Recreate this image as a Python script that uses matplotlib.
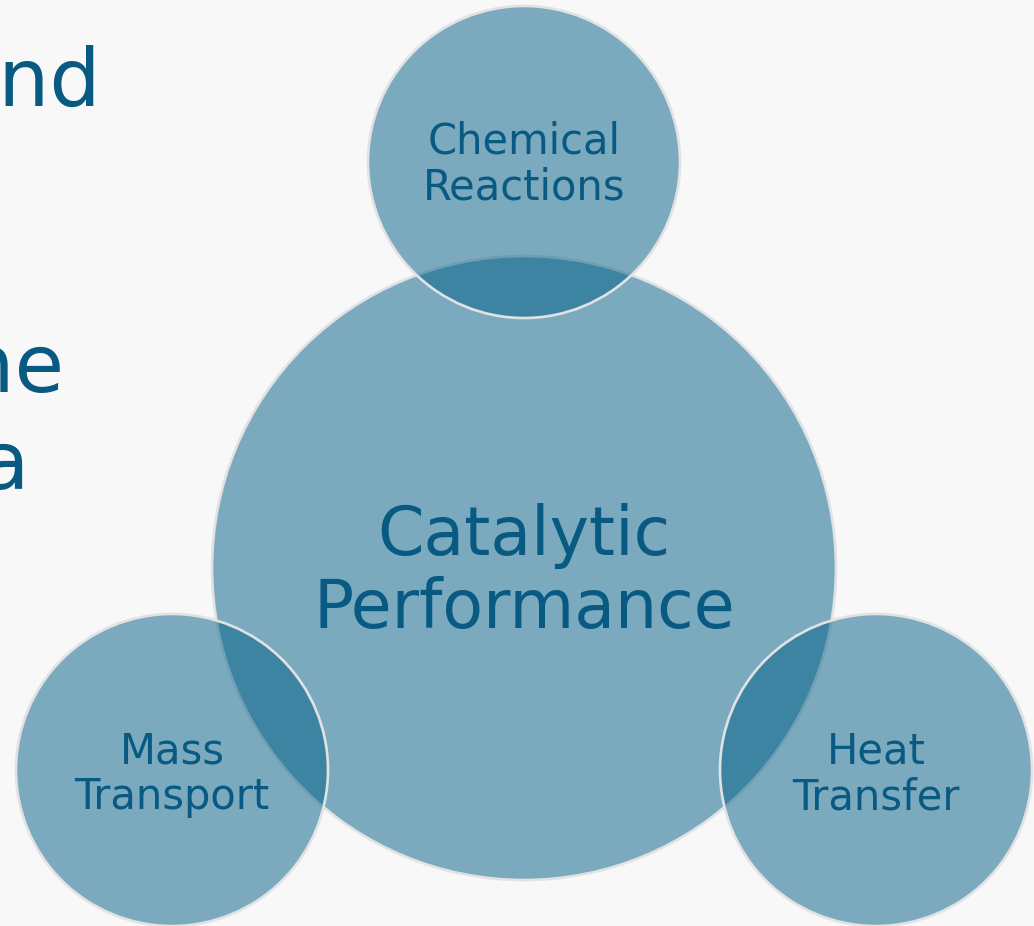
import matplotlib
matplotlib.use("Agg")
import matplotlib.pyplot as plt
from matplotlib.patches import Circle

# circles: label lines, centre (px), radius (px)
labels = [["Catalytic", "Performance"],
          ["Chemical", "Reactions"],
          ["Mass", "Transport"],
          ["Heat", "Transfer"]]
cx = [524, 524, 172, 876]
cy = [568, 162, 770, 770]
radius = [312, 156, 156, 156]

# clipped slide text on the left edge
side_text = ["and", "the", "a"]
side_x = [101, 65, 29]
side_y = [106, 392, 489]

bg = "#f8f8f8"
fill = (0.0, 0.365, 0.53, 0.5)
edge = "#e0e2e4"
txt = "#085a82"

fig = plt.figure(figsize=(10.34, 9.26), dpi=100, facecolor=bg)
ax = fig.add_axes([0, 0, 1, 1])
ax.set_facecolor(bg)
ax.set_xlim(0, 1034)
ax.set_ylim(926, 0)
ax.set_aspect("equal")
ax.axis("off")

for i in range(len(labels)):
    c = Circle((cx[i], cy[i]), radius[i], facecolor=fill, edgecolor=edge,
               linewidth=1.9, zorder=1 + i)
    ax.add_patch(c)

# text
for i in range(len(labels)):
    if i == 0:
        fs = 48
        y1 = cy[i] - 13
        gap = 73
    else:
        fs = 30
        y1 = cy[i] - 8 if i == 1 else cy[i] - 6
        gap = 45
    ax.text(cx[i], y1, labels[i][0], fontsize=fs, color=txt, ha="center",
            va="baseline", zorder=10)
    ax.text(cx[i], y1 + gap, labels[i][1], fontsize=fs, color=txt,
            ha="center", va="baseline", zorder=10)

for s, x, y in zip(side_text, side_x, side_y):
    ax.text(x, y, s, fontsize=58, color=txt, ha="right", va="baseline",
            zorder=0)

fig.savefig("out.png", dpi=100, facecolor=bg)
